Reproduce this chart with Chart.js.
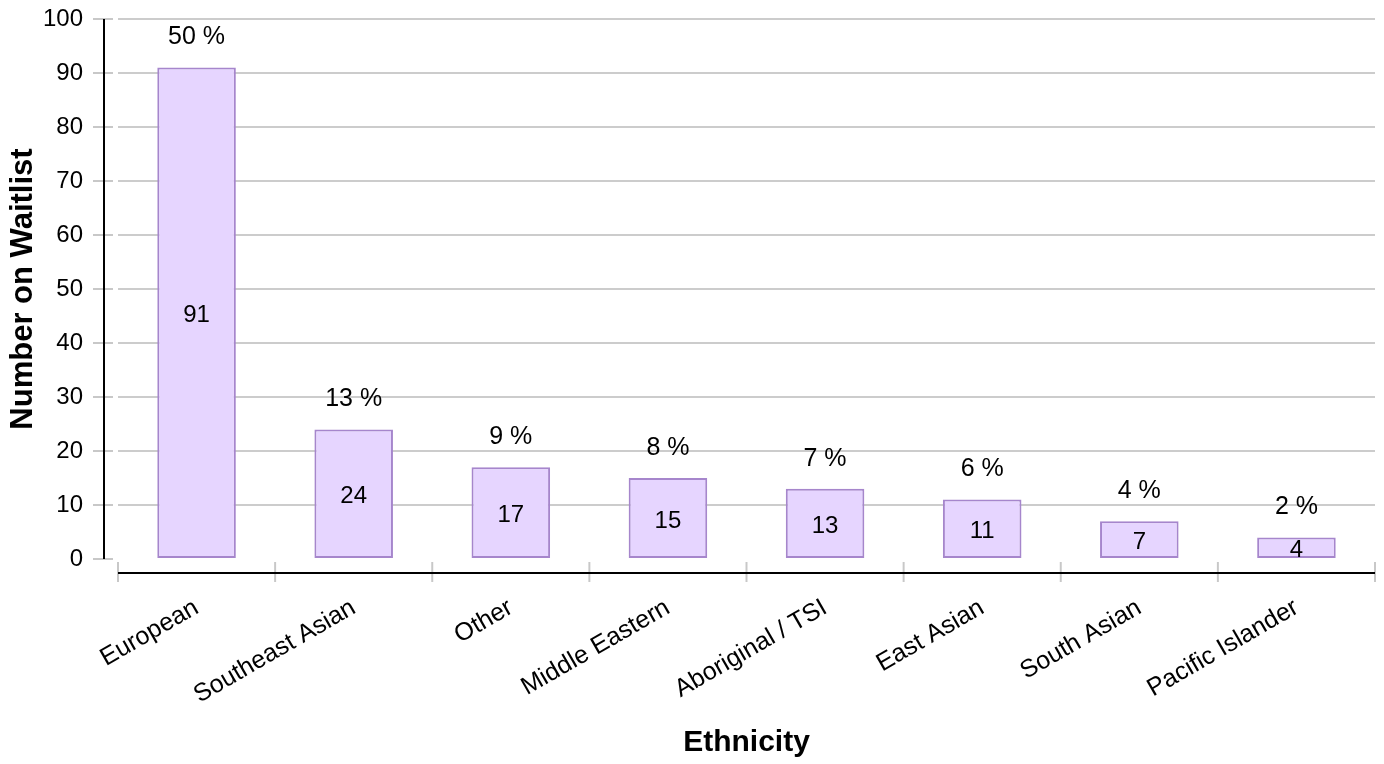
<!DOCTYPE html>
<html><head><meta charset="utf-8">
<script src="https://cdn.jsdelivr.net/npm/chart.js@4"></script>
<style>html,body{margin:0;padding:0;background:#fff}#wrap{width:1384px;height:764px}</style>
</head><body><div id="wrap"><canvas id="c" width="1384" height="764"></canvas></div>
<script>
const categories = ['European','Southeast Asian','Other','Middle Eastern','Aboriginal / TSI','East Asian','South Asian','Pacific Islander'];
const counts = [91, 24, 17, 15, 13, 11, 7, 4];
const percentLabels = ['50 %','13 %','9 %','8 %','7 %','6 %','4 %','2 %'];
const yMin = 0, yMax = 100, yStep = 10;

const FONT = "'Liberation Sans', Arial, sans-serif";

const decor = {
  id: 'decor',
  afterDraw(chart) {
    const ctx = chart.ctx, ca = chart.chartArea;
    const ys = chart.scales.y, xs = chart.scales.x;
    ctx.save();
    // y tick marks
    ctx.strokeStyle = '#c8c8c8'; ctx.lineWidth = 2;
    ys.ticks.forEach(t => {
      const py = Math.round(ys.getPixelForValue(t.value));
      ctx.beginPath(); ctx.moveTo(ca.left - 25, py); ctx.lineTo(ca.left - 5, py); ctx.stroke();
    });
    // x tick marks at category boundaries
    const n = categories.length;
    const step = xs.getPixelForValue(1) - xs.getPixelForValue(0);
    for (let i = 0; i <= n; i++) {
      const px = xs.getPixelForValue(0) - step / 2 + i * step;
      ctx.beginPath(); ctx.moveTo(px, ca.bottom + 3); ctx.lineTo(px, ca.bottom + 23); ctx.stroke();
    }
    // axis lines
    ctx.strokeStyle = '#000'; ctx.lineWidth = 2;
    ctx.beginPath(); ctx.moveTo(ca.left - 14, ca.top); ctx.lineTo(ca.left - 14, ca.bottom); ctx.stroke();
    ctx.beginPath(); ctx.moveTo(ca.left, ca.bottom + 14); ctx.lineTo(ca.right, ca.bottom + 14); ctx.stroke();
    // bar labels
    const meta = chart.getDatasetMeta(0);
    ctx.fillStyle = '#000';
    ctx.textAlign = 'center'; ctx.textBaseline = 'middle';
    meta.data.forEach((bar, i) => {
      ctx.font = '24px ' + FONT;
      ctx.fillText(String(counts[i]), bar.x, (bar.y + bar.base) / 2 + 3);
      ctx.font = '25px ' + FONT;
      ctx.fillText(percentLabels[i], bar.x, bar.y - 30);
    });
    ctx.restore();
  }
};

new Chart(document.getElementById('c'), {
  type: 'bar',
  data: {
    labels: categories,
    datasets: [{
      data: counts,
      backgroundColor: 'rgb(230,213,255)',
      borderColor: 'rgb(166,134,204)',
      borderWidth: 2,
      borderSkipped: false,
      barPercentage: 0.5,
      categoryPercentage: 1.0
    }]
  },
  options: {
    responsive: false,
    devicePixelRatio: 1,
    animation: false,
    layout: { padding: { top: 19, right: 9, left: 0, bottom: 0 } },
    plugins: { legend: { display: false }, tooltip: { enabled: false } },
    scales: {
      x: {
        offset: true,
        grid: { display: false },
        border: { display: false },
        ticks: { color: '#000', font: { family: FONT, size: 25 }, minRotation: 30, maxRotation: 30, padding: 26, autoSkip: false },
        title: { display: true, text: 'Ethnicity', color: '#000', font: { family: FONT, size: 30, weight: 'bold' }, padding: { top: 0, bottom: 3 } },
        afterFit(s) { s.height = 205; s.paddingTop = 0; s.paddingBottom = 0; s.paddingLeft = 0; s.paddingRight = 0; }
      },
      y: {
        min: yMin, max: yMax,
        ticks: { stepSize: yStep, color: '#000', font: { family: FONT, size: 24 }, padding: 35 },
        grid: { drawTicks: false, lineWidth: 2, color: c => c.tick && c.tick.value === 0 ? 'rgba(0,0,0,0)' : '#cccccc' },
        border: { display: false },
        title: { display: true, text: 'Number on Waitlist', color: '#000', font: { family: FONT, size: 31, weight: 'bold' }, padding: { top: 5, bottom: 0 } },
        afterFit(s) { s.width = 118; s.paddingTop = 0; s.paddingBottom = 0; }
      }
    }
  },
  plugins: [decor]
});
</script></body></html>
